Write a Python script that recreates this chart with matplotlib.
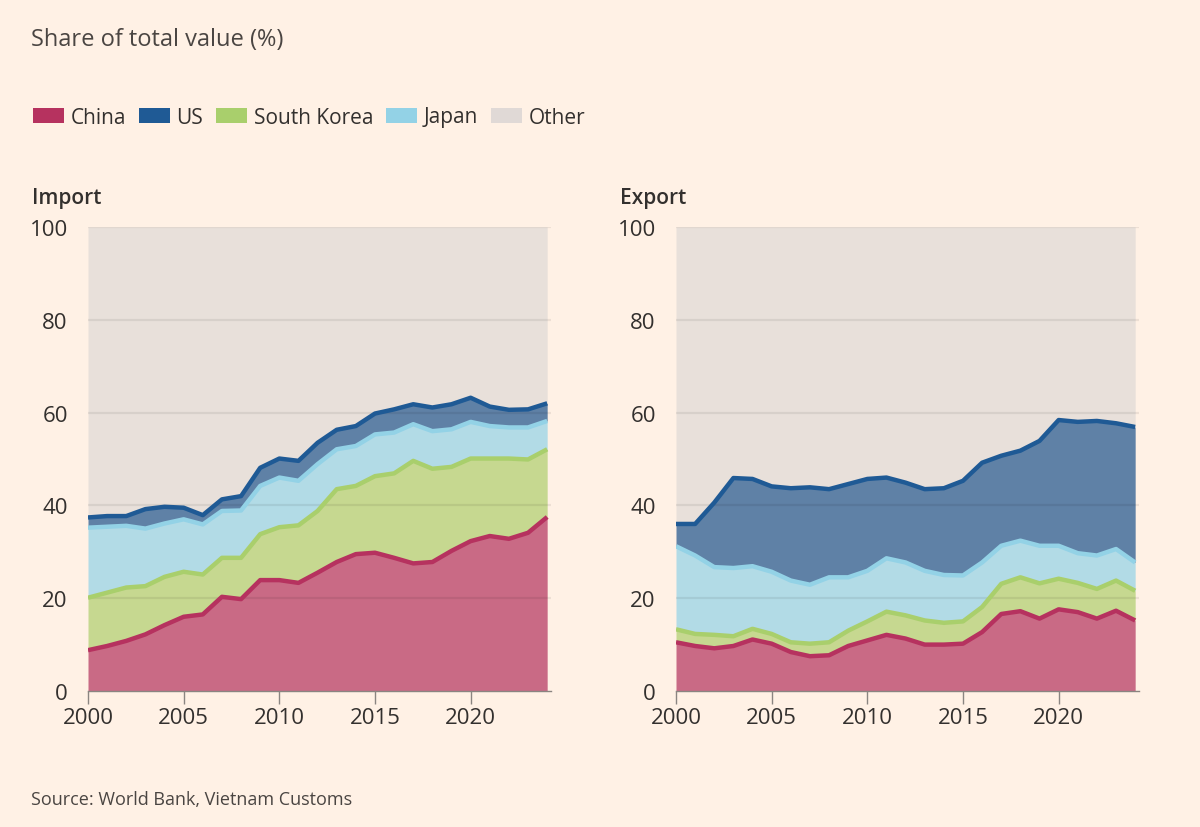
import numpy as np
import matplotlib
matplotlib.use("Agg")
import matplotlib.pyplot as plt
from matplotlib.patches import Patch

plt.rcParams['font.family'] = ['Open Sans', 'DejaVu Sans']

years = list(range(2000, 2025))

# import shares (%) per partner
imp_china = [8.8, 9.7, 10.8, 12.2, 14.2, 16.0, 16.5, 20.3, 19.8, 23.9, 23.9, 23.3, 25.5,
             27.8, 29.5, 29.8, 28.7, 27.5, 27.8, 30.2, 32.3, 33.4, 32.8, 34.1, 37.5]
imp_korea = [11.3, 11.5, 11.5, 10.4, 10.4, 9.7, 8.6, 8.4, 8.9, 9.9, 11.4, 12.4, 13.3,
             15.7, 14.7, 16.5, 18.2, 22.1, 20.1, 18.1, 17.8, 16.7, 17.3, 15.8, 14.6]
imp_japan = [15.1, 14.2, 13.3, 12.4, 11.5, 11.3, 10.8, 10.1, 10.2, 10.4, 10.7, 9.6, 10.1,
             8.6, 8.6, 9.0, 8.8, 7.9, 8.1, 8.1, 7.9, 7.0, 6.7, 6.9, 6.1]
imp_us = [2.2, 2.3, 2.1, 4.2, 3.6, 2.5, 2.0, 2.5, 3.1, 3.9, 4.1, 4.3, 4.6,
          4.2, 4.3, 4.5, 5.0, 4.3, 5.1, 5.4, 5.2, 4.2, 3.8, 3.9, 3.8]

# export shares (%) per partner
exp_china = [10.5, 9.7, 9.2, 9.7, 11.1, 10.2, 8.4, 7.5, 7.7, 9.7, 10.9, 12.1, 11.3,
             10.0, 10.0, 10.2, 12.7, 16.6, 17.2, 15.6, 17.6, 17.0, 15.6, 17.3, 15.2]
exp_korea = [2.8, 2.6, 2.9, 2.1, 2.3, 2.1, 2.1, 2.7, 2.8, 3.3, 4.1, 5.0, 5.0,
             5.2, 4.7, 4.8, 5.4, 6.5, 7.3, 7.6, 6.6, 6.3, 6.4, 6.5, 6.4]
exp_japan = [17.9, 16.9, 14.6, 14.7, 13.5, 13.4, 13.3, 12.7, 14.0, 11.5, 10.9, 11.5, 11.4,
             10.7, 10.3, 9.9, 9.6, 8.2, 7.9, 8.1, 7.1, 6.4, 7.2, 6.8, 6.1]
exp_us = [4.8, 6.8, 13.9, 19.4, 18.8, 18.4, 19.9, 21.0, 19.0, 20.1, 19.8, 17.4, 17.2,
          17.6, 18.7, 20.4, 21.5, 19.4, 19.4, 22.6, 27.1, 28.3, 29.0, 27.1, 29.2]

partners = ["China", "US", "South Korea", "Japan", "Other"]
fill_cols = {"China": "#c96a85", "South Korea": "#c6d890", "Japan": "#b2dbe6",
             "US": "#5f81a6", "Other": "#e8e0da"}
line_cols = {"China": "#b6325f", "South Korea": "#a9cf6c", "Japan": "#93d2e6",
             "US": "#1f5a95"}
legend_cols = {"China": "#b6325f", "US": "#1f5a95", "South Korea": "#a9cf6c",
               "Japan": "#93d2e6", "Other": "#e0d9d6"}

bg = "#fff1e5"
txt = "#33302e"

fig = plt.figure(figsize=(12, 8.28), dpi=100, facecolor=bg)


def panel(ax, china, korea, japan, us, title):
    ax.set_facecolor(bg)
    stack_order = [("China", china), ("South Korea", korea), ("Japan", japan), ("US", us)]
    base = np.zeros(len(years))
    tops = []
    for name, vals in stack_order:
        top = base + np.array(vals)
        ax.fill_between(years, base, top, color=fill_cols[name], lw=0, zorder=1)
        tops.append((name, top))
        base = top
    ax.fill_between(years, base, 100, color=fill_cols["Other"], lw=0, zorder=1)
    for y in [20, 40, 60, 80, 100]:
        ax.axhline(y, color="#000000", alpha=0.07, lw=1.6, zorder=2)
    for name, top in tops:
        ax.plot(years, top, color=line_cols[name], lw=3.2, zorder=3,
                solid_joinstyle="round", solid_capstyle="butt")
    ax.set_xlim(2000, 2024.2)
    ax.set_ylim(0, 100)
    for s in ["top", "right", "left"]:
        ax.spines[s].set_visible(False)
    ax.spines["bottom"].set_color("#8a8581")
    ax.spines["bottom"].set_linewidth(1.0)
    ax.spines["bottom"].set_zorder(4)
    ax.set_yticks([0, 20, 40, 60, 80, 100])
    ax.set_xticks([2000, 2005, 2010, 2015, 2020])
    ax.tick_params(axis="y", length=0, pad=14.5, labelsize=16, labelcolor=txt)
    ax.tick_params(axis="x", length=9, width=1, color="#8a8581", pad=2.5,
                   labelsize=16, labelcolor=txt)
    ax.text(-0.12, 1.064, title, transform=ax.transAxes, fontsize=15,
            fontweight="semibold", color=txt, va="center", ha="left")


ax1 = fig.add_axes([88 / 1200, 136 / 828, 463 / 1200, 464 / 828])
ax2 = fig.add_axes([676 / 1200, 136 / 828, 463 / 1200, 464 / 828])
panel(ax1, imp_china, imp_korea, imp_japan, imp_us, "Import")
panel(ax2, exp_china, exp_korea, exp_japan, exp_us, "Export")

fig.text(31 / 1200, 1 - 40 / 828, "Share of total value (%)", fontsize=17,
         color="#4a4542", va="center", ha="left")

handles = [Patch(facecolor=legend_cols[p], edgecolor="none") for p in partners]
fig.legend(handles, partners, loc="center left", bbox_to_anchor=(33 / 1200, 1 - 118 / 828),
           ncol=5, frameon=False, fontsize=15, handlelength=1.5, handleheight=0.75,
           handletextpad=0.3, columnspacing=0.62, labelcolor=txt, borderaxespad=0,
           borderpad=0)

fig.text(31 / 1200, 1 - 800 / 828, "Source: World Bank, Vietnam Customs", fontsize=13,
         color="#4a4542", va="center", ha="left")

fig.savefig("out.png", dpi=100, facecolor=bg)
